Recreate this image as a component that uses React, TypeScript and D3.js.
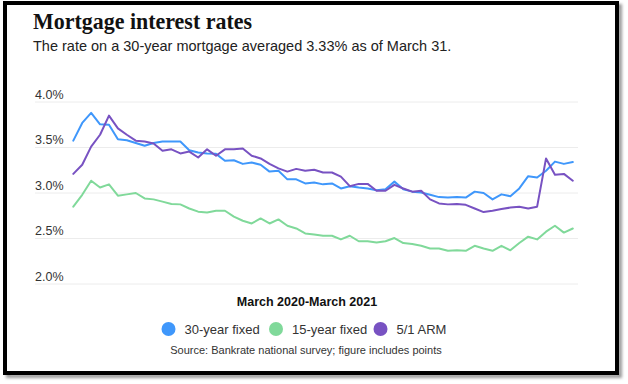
import React from 'react';
import * as d3 from 'd3';

// weekly averages, March 2020 - March 2021
const fixed30 = [3.575, 3.77, 3.88, 3.755, 3.75, 3.59, 3.58, 3.55, 3.52, 3.55, 3.565, 3.565, 3.565, 3.47, 3.445, 3.435, 3.43, 3.355, 3.36, 3.32, 3.335, 3.31, 3.235, 3.245, 3.15, 3.15, 3.105, 3.115, 3.095, 3.105, 3.05, 3.075, 3.06, 3.05, 3.03, 3.04, 3.125, 3.04, 3.015, 3.005, 2.98, 2.955, 2.95, 2.955, 2.95, 3.015, 3.0, 2.93, 2.985, 2.965, 3.05, 3.185, 3.17, 3.245, 3.345, 3.32, 3.34];
const fixed15 = [2.85, 2.98, 3.135, 3.06, 3.095, 2.97, 2.985, 3.0, 2.94, 2.93, 2.905, 2.88, 2.875, 2.83, 2.795, 2.785, 2.805, 2.805, 2.74, 2.695, 2.665, 2.72, 2.665, 2.71, 2.64, 2.61, 2.555, 2.545, 2.53, 2.53, 2.49, 2.53, 2.47, 2.47, 2.455, 2.47, 2.505, 2.45, 2.44, 2.42, 2.39, 2.39, 2.365, 2.37, 2.365, 2.42, 2.39, 2.365, 2.42, 2.37, 2.45, 2.52, 2.49, 2.575, 2.64, 2.565, 2.61];
const arm51 = [3.21, 3.31, 3.51, 3.64, 3.85, 3.71, 3.64, 3.575, 3.565, 3.545, 3.465, 3.48, 3.435, 3.455, 3.39, 3.48, 3.41, 3.48, 3.48, 3.49, 3.41, 3.38, 3.32, 3.27, 3.235, 3.265, 3.245, 3.255, 3.225, 3.225, 3.18, 3.075, 3.1, 3.1, 3.025, 3.025, 3.09, 3.05, 3.015, 3.025, 2.93, 2.885, 2.875, 2.88, 2.87, 2.83, 2.79, 2.805, 2.825, 2.84, 2.85, 2.83, 2.85, 3.38, 3.2, 3.21, 3.135];

const seriesNames = ['30-year fixed', '15-year fixed', '5/1 ARM'];
const seriesColors = ['#3f97fb', '#80d99a', '#7852c2'];
const yTicks = [2.0, 2.5, 3.0, 3.5, 4.0];

const W = 628;
const H = 384;
const sans = '"Liberation Sans", Arial, sans-serif';

export default function App() {
  const series = [fixed30, fixed15, arm51];

  const x = d3.scaleLinear().domain([0, fixed30.length - 1]).range([73.3, 572.8]);
  const y = d3.scaleLinear().domain([2, 4]).range([284, 102]);

  const line = d3.line<number>()
    .x((_, i) => x(i))
    .y(d => y(d));

  // legend layout
  const legendX = [168.5, 276, 380.5];

  return (
    <div style={{ position: 'absolute', left: 0, top: 0 }}>
      <svg width={W} height={H} style={{ display: 'block' }}>
        <defs>
          <filter id="shadow" x="-5%" y="-5%" width="110%" height="110%">
            <feGaussianBlur stdDeviation="1.6" />
          </filter>
        </defs>
        <rect width={W} height={H} fill="#fff" />
        {/* frame with drop shadow */}
        <rect x={8} y={6} width={612} height={370} fill="none" stroke="#9a9a9a" strokeWidth={4} filter="url(#shadow)" />
        <rect x={5} y={3} width={612} height={370} fill="#fff" stroke="#000" strokeWidth={4} />

        <text x={33} y={29} fontFamily='"Liberation Serif", "Times New Roman", serif' fontWeight="bold"
          fontSize={23} fill="#111" textLength={219} lengthAdjust="spacingAndGlyphs">
          Mortgage interest rates
        </text>
        <text x={33} y={51} fontFamily={sans} fontSize={14.5} fill="#222">
          The rate on a 30-year mortgage averaged 3.33% as of March 31.
        </text>

        {yTicks.map(t => (
          <g key={t}>
            <line x1={35} x2={578} y1={y(t)} y2={y(t)} stroke="#ececec" strokeWidth={1} />
            <text x={35} y={y(t) - 3.5} fontFamily={sans} fontSize={12.5} fill="#333">
              {t.toFixed(1) + '%'}
            </text>
          </g>
        ))}

        {series.map((s, i) => (
          <path key={i} d={line(s) || ''} fill="none" stroke={seriesColors[i]} strokeWidth={2}
            strokeLinejoin="round" strokeLinecap="round" />
        ))}

        <text x={307} y={306} textAnchor="middle" fontFamily={sans} fontWeight="bold" fontSize={12.5} fill="#111">
          March 2020-March 2021
        </text>

        {seriesNames.map((n, i) => (
          <g key={n}>
            <circle cx={legendX[i]} cy={329} r={7} fill={seriesColors[i]} />
            <text x={legendX[i] + 16} y={333.5} fontFamily={sans} fontSize={13} fill="#333">{n}</text>
          </g>
        ))}

        <text x={306} y={354} textAnchor="middle" fontFamily={sans} fontSize={11} fill="#333">
          Source: Bankrate national survey; figure includes points
        </text>
      </svg>
    </div>
  );
}
